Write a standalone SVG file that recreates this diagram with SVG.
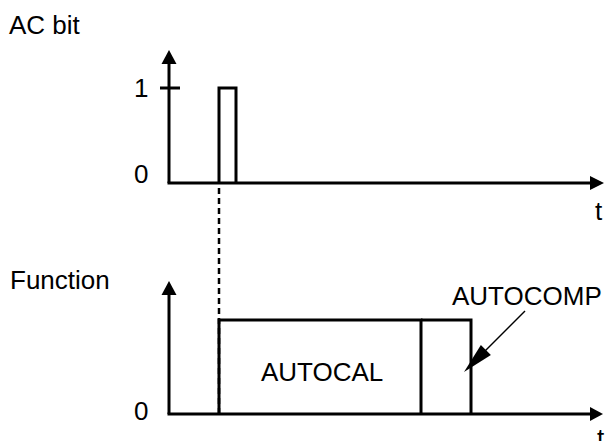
<svg xmlns="http://www.w3.org/2000/svg" width="608" height="441" viewBox="0 0 608 441">
<style>
text{font-family:"Liberation Sans",Arial,sans-serif;font-size:26px;fill:#000}
.ln{fill:none;stroke:#000;stroke-width:3;stroke-linejoin:miter}
.thin{fill:none;stroke:#000;stroke-width:1.5}
.dash{fill:none;stroke:#000;stroke-width:2.5;stroke-dasharray:6 4}
.head{fill:#000;stroke:none}
</style>
<rect width="608" height="441" fill="#fff"/>
<g id="labels">
<text x="9" y="34">AC bit</text>
<text x="10" y="289">Function</text>
</g>
<g id="top-axes">
<line class="ln" x1="169" y1="183" x2="169" y2="62"/>
<polygon class="head" points="169,50 161.5,64 176.5,64"/>
<line class="ln" x1="167.5" y1="183" x2="592" y2="183"/>
<polygon class="head" points="604,183 590,176 590,190"/>
<line class="ln" x1="160" y1="88" x2="180" y2="88"/>
<text x="134" y="97">1</text>
<text x="134" y="183">0</text>
<text x="595" y="220">t</text>
</g>
<g id="pulse">
<polyline class="ln" points="219,183 219,88 236,88 236,183"/>
</g>
<g id="bottom-axes">
<line class="ln" x1="169" y1="414" x2="169" y2="293"/>
<polygon class="head" points="169,281 161.5,295 176.5,295"/>
<line class="ln" x1="167.5" y1="414" x2="592" y2="414"/>
<polygon class="head" points="603,414 590,407 590,421"/>
<text x="134" y="420">0</text>
<text x="597" y="447">t</text>
</g>
<g id="connectors">
<line class="dash" x1="219" y1="188" x2="219" y2="414"/>
<line class="thin" x1="525" y1="311" x2="480" y2="356"/>
<polygon class="head" points="464,372 480.9,345.1 490.9,355.1"/>
</g>
<g id="autocal">
<polyline class="ln" points="219,414 219,320 421,320 421,414"/>
<text x="261" y="381">AUTOCAL</text>
</g>
<g id="autocomp">
<polyline class="ln" points="421,320 471,320 471,414"/>
<text x="452" y="305">AUTOCOMP</text>
</g>
</svg>
